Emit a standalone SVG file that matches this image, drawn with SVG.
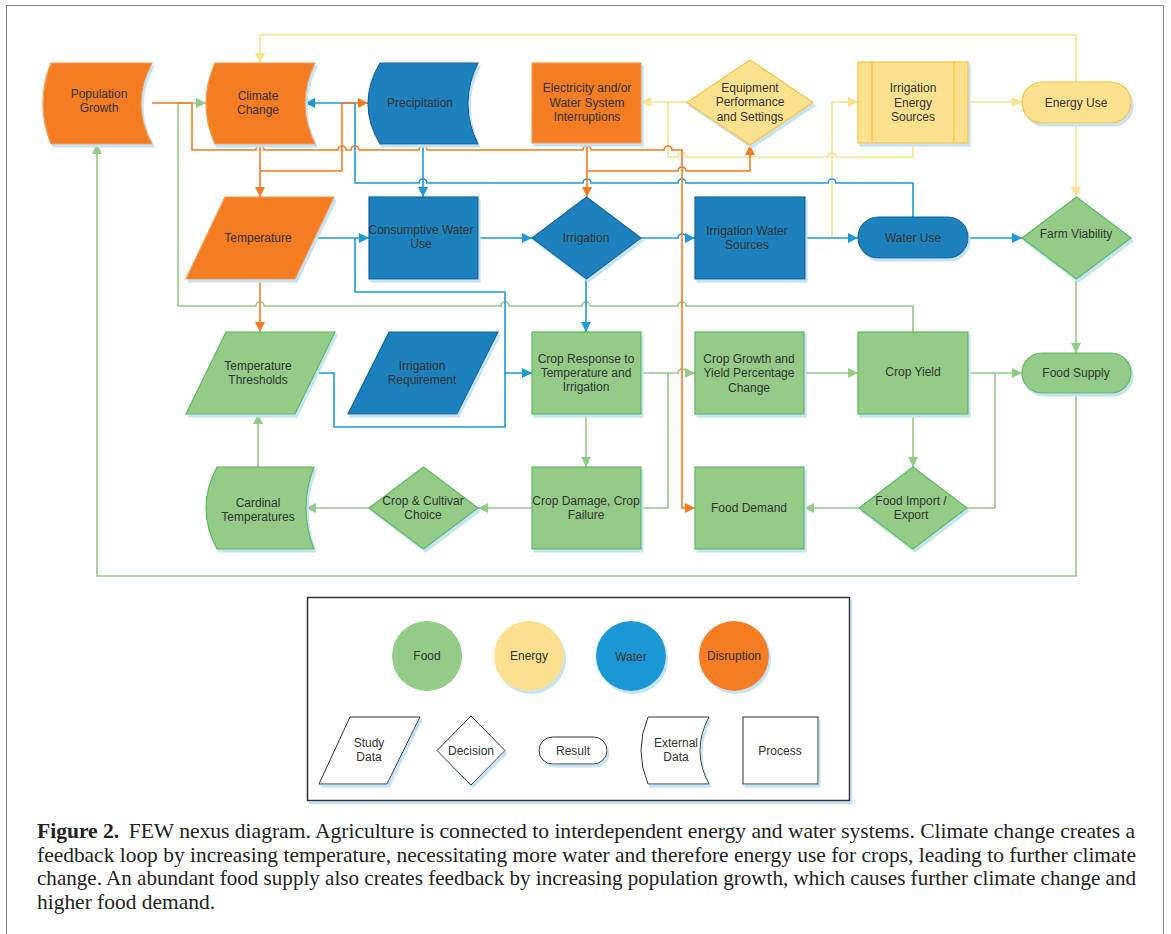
<svg xmlns="http://www.w3.org/2000/svg" width="1171" height="934" viewBox="0 0 1171 934">
<defs>
<filter id="sh" x="-10%" y="-10%" width="130%" height="130%"><feDropShadow dx="2" dy="3" stdDeviation="0" flood-color="#C3E4F6" flood-opacity="1"/></filter>
<marker id="aO" viewBox="0 0 10 10" refX="10" refY="5" markerWidth="10" markerHeight="10" markerUnits="userSpaceOnUse" orient="auto"><path d="M0,0L10,5L0,10z" fill="#F47B20"/></marker>
<marker id="aB" viewBox="0 0 10 10" refX="10" refY="5" markerWidth="10" markerHeight="10" markerUnits="userSpaceOnUse" orient="auto"><path d="M0,0L10,5L0,10z" fill="#1E98D8"/></marker>
<marker id="aG" viewBox="0 0 10 10" refX="10" refY="5" markerWidth="10" markerHeight="10" markerUnits="userSpaceOnUse" orient="auto"><path d="M0,0L10,5L0,10z" fill="#93CB87"/></marker>
<marker id="aY" viewBox="0 0 10 10" refX="10" refY="5" markerWidth="10" markerHeight="10" markerUnits="userSpaceOnUse" orient="auto"><path d="M0,0L10,5L0,10z" fill="#FCE08C"/></marker>
</defs>
<style>
text{font-family:"Liberation Sans",Arial,sans-serif;font-size:12px;fill:#333;text-anchor:middle}
.o{fill:#F47B20;stroke:#F59A4E;stroke-width:1.2;filter:url(#sh)}
.b{fill:#1A81BC;stroke:#15679B;stroke-width:1.2;filter:url(#sh)}
.g{fill:#93CB87;stroke:#5BB85D;stroke-width:1.2;filter:url(#sh)}
.y{fill:#FDE18F;stroke:#F6C23E;stroke-width:1.2;filter:url(#sh)}
.ln{fill:none;stroke:#F6C23E;stroke-width:1.2}
.lg{fill:#fff;stroke:#333;stroke-width:1;filter:url(#sh)}
#connectors path{fill:none;stroke-width:1.6}
.co{stroke:#F47B20;marker-end:url(#aO)}
.cb{stroke:#1E98D8;marker-end:url(#aB)}
.cg{stroke:#93CB87;marker-end:url(#aG)}
.cy{stroke:#FCE08C;marker-end:url(#aY)}
.nm{marker-end:none!important}
.cap{font-family:"Liberation Serif","Times New Roman",serif;font-size:21px;fill:#222;text-anchor:start}
</style>
<rect x="6.5" y="5.5" width="1157" height="940" fill="#fff" stroke="#8a8a8a" stroke-width="1"/>

<g id="connectors">
<path class="cg" d="M913,332 V306 H686 A4,4 0 0 0 678,306 H590 A4,4 0 0 0 582,306 H509 A4,4 0 0 0 501,306 H264 A4,4 0 0 0 256,306 H178 V103 H206"/>
<path class="cg" d="M1076,393 V576 H97 V144"/>
<path class="cg" d="M641,373 H678 A4,4 0 0 1 686,373 H695"/>
<path class="cg nm" d="M641,508 H668 V373"/>
<path class="cg" d="M586,414 V467"/>
<path class="cg" d="M532,508 H478"/>
<path class="cg" d="M369,508 H306"/>
<path class="cg" d="M258,467 V414"/>
<path class="cg" d="M804,373 H858"/>
<path class="cg" d="M968,373 H1022"/>
<path class="cg nm" d="M967,508 H995 V373"/>
<path class="cg" d="M913,414 V467"/>
<path class="cg" d="M859,508 H804"/>
<path class="cg" d="M1076,279 V353"/>

<path class="cy" d="M1076,82 V35 H260 V63"/>
<path class="cy nm" d="M913,143 V157 H836 A4,4 0 0 0 828,157 H686 A4,4 0 0 0 678,157 H668 V102"/>
<path class="cy" d="M687,102 H641"/>
<path class="cy" d="M832,238 V102 H858"/>
<path class="cy" d="M968,102 H1022"/>
<path class="cy" d="M1076,123 V197"/>

<path class="cb" d="M423,144 V197"/>
<path class="cb" d="M913,217 V183 H836 A4,4 0 0 0 828,183 H686 A4,4 0 0 0 678,183 H591 A4,4 0 0 0 583,183 H427 A4,4 0 0 0 419,183 H355 V103 H305"/>
<path class="cb" d="M314,238 H369"/>
<path class="cb" d="M355,238 V292 H505 V373 H532"/>
<path class="cb nm" d="M315,373 H334 V427 H505 V373"/>
<path class="cb" d="M478,238 H532"/>
<path class="cb" d="M641,238 H678 A4,4 0 0 1 686,238 H695"/>
<path class="cb" d="M586,279 V332"/>
<path class="cb" d="M805,238 H858"/>
<path class="cb" d="M968,238 H1022"/>

<path class="co" d="M152,103 H192 V150 H256 A4,4 0 0 1 264,150 H338 A4,4 0 0 1 346,150 H351 A4,4 0 0 1 359,150 H419 A4,4 0 0 1 427,150 H583 A4,4 0 0 1 591,150 H664 A4,4 0 0 1 672,150 H682 V508 H695"/>
<path class="co" d="M260,144 V197"/>
<path class="co" d="M260,171 H342 V103 H368"/>
<path class="co" d="M587,143 V197"/>
<path class="co" d="M587,171 H678 A4,4 0 0 1 686,171 H750 V145"/>
<path class="co" d="M260,279 V332"/>
</g>

<g id="population-growth"><path class="o" d="M51,63 H152 Q130,103.5 152,144 H51 Q35,103.5 51,63 Z"/><text x="99" y="98">Population</text><text x="99" y="112">Growth</text></g>
<g id="climate-change"><path class="o" d="M215,63 H315 Q295,103.5 315,144 H215 Q197,103.5 215,63 Z"/><text x="258" y="100">Climate</text><text x="258" y="114">Change</text></g>
<g id="precipitation"><path class="b" d="M380,63 H478 Q458,103.5 478,144 H380 Q356,103.5 380,63 Z"/><text x="420" y="107">Precipitation</text></g>
<g id="electricity"><rect class="o" x="532" y="63" width="109" height="80"/><text x="587" y="92">Electricity and/or</text><text x="587" y="107">Water System</text><text x="587" y="121">Interruptions</text></g>
<g id="equipment"><path class="y" d="M750,60 L813,102.5 L750,145 L687,102.5 Z"/><text x="750" y="92">Equipment</text><text x="750" y="106">Performance</text><text x="750" y="121">and Settings</text></g>
<g id="irrigation-energy-sources"><rect class="y" x="858" y="62" width="110" height="81"/><path class="ln" d="M872,62 V143 M954,62 V143"/><text x="913" y="92">Irrigation</text><text x="913" y="107">Energy</text><text x="913" y="121">Sources</text></g>
<g id="energy-use"><rect class="y" x="1022" y="82" width="109" height="41" rx="20.5"/><text x="1076" y="107">Energy Use</text></g>

<g id="temperature"><path class="o" d="M225,197 H334 L295,279 H186 Z"/><text x="258" y="242">Temperature</text></g>
<g id="consumptive-water-use"><rect class="b" x="369" y="197" width="109" height="82"/><text x="421" y="234">Consumptive Water</text><text x="421" y="248">Use</text></g>
<g id="irrigation"><path class="b" d="M586.5,197 L641,238 L586.5,279 L532,238 Z"/><text x="586" y="242">Irrigation</text></g>
<g id="irrigation-water-sources"><rect class="b" x="695" y="197" width="110" height="82"/><text x="747" y="235">Irrigation Water</text><text x="747" y="249">Sources</text></g>
<g id="water-use"><rect class="b" x="858" y="217" width="110" height="41" rx="20.5"/><text x="913" y="242">Water Use</text></g>
<g id="farm-viability"><path class="g" d="M1076.5,197 L1131,238 L1076.5,279 L1022,238 Z"/><text x="1076" y="238">Farm Viability</text></g>

<g id="temperature-thresholds"><path class="g" d="M226,332 H335 L295,414 H186 Z"/><text x="258" y="370">Temperature</text><text x="258" y="384">Thresholds</text></g>
<g id="irrigation-requirement"><path class="b" d="M389,332 H498 L457,414 H348 Z"/><text x="422" y="370">Irrigation</text><text x="422" y="384">Requirement</text></g>
<g id="crop-response"><rect class="g" x="532" y="332" width="109" height="82"/><text x="586" y="363">Crop Response to</text><text x="586" y="377">Temperature and</text><text x="586" y="391">Irrigation</text></g>
<g id="crop-growth"><rect class="g" x="695" y="332" width="109" height="82"/><text x="749" y="363">Crop Growth and</text><text x="749" y="377">Yield Percentage</text><text x="749" y="392">Change</text></g>
<g id="crop-yield"><rect class="g" x="858" y="332" width="110" height="82"/><text x="913" y="376">Crop Yield</text></g>
<g id="food-supply"><rect class="g" x="1022" y="353" width="109" height="40" rx="20"/><text x="1076" y="377">Food Supply</text></g>

<g id="cardinal-temperatures"><path class="g" d="M217,467 H314 Q298,508 314,549 H217 Q195,508 217,467 Z"/><text x="258" y="507">Cardinal</text><text x="258" y="521">Temperatures</text></g>
<g id="crop-cultivar-choice"><path class="g" d="M423.5,467 L478,508 L423.5,549 L369,508 Z"/><text x="423" y="505">Crop &amp; Cultivar</text><text x="423" y="519">Choice</text></g>
<g id="crop-damage"><rect class="g" x="532" y="467" width="109" height="82"/><text x="586" y="505">Crop Damage, Crop</text><text x="586" y="519">Failure</text></g>
<g id="food-demand"><rect class="g" x="695" y="467" width="109" height="82"/><text x="749" y="512">Food Demand</text></g>
<g id="food-import-export"><path class="g" d="M913,467 L967,508 L913,549 L859,508 Z"/><text x="911" y="505">Food Import /</text><text x="911" y="519">Export</text></g>

<g id="legend">
<rect x="307.5" y="597.5" width="542" height="203" fill="#fff" stroke="#333" stroke-width="1.5" filter="url(#sh)"/>
<circle cx="427" cy="656" r="35" fill="#93CB87"/><text x="427" y="660">Food</text>
<circle cx="529" cy="656" r="35" fill="#FDE08F" filter="url(#sh)"/><text x="529" y="660">Energy</text>
<circle cx="631" cy="656" r="35" fill="#1A97D6" filter="url(#sh)"/><text x="631" y="661">Water</text>
<circle cx="734" cy="656" r="35" fill="#F47B20" filter="url(#sh)"/><text x="734" y="660">Disruption</text>
<path class="lg" d="M350,717 H420 L387,784 H319 Z"/><text x="369" y="747">Study</text><text x="369" y="761">Data</text>
<path class="lg" d="M471,716 L505,750.5 L471,785 L437,750.5 Z"/><text x="471" y="755">Decision</text>
<rect class="lg" x="539" y="737" width="68" height="27" rx="13.5"/><text x="573" y="755">Result</text>
<path class="lg" d="M648,717 H709 Q691,750.5 709,784 H648 Q634,750.5 648,717 Z"/><text x="676" y="747">External</text><text x="676" y="761">Data</text>
<rect class="lg" x="743" y="717" width="75" height="67"/><text x="780" y="755">Process</text>
</g>

<g id="caption">
<text class="cap" x="37" y="838" textLength="1098" lengthAdjust="spacingAndGlyphs"><tspan font-weight="bold">Figure 2.</tspan><tspan dx="4"> FEW nexus diagram. Agriculture is connected to interdependent energy and water systems. Climate change creates a</tspan></text>
<text class="cap" x="37" y="862" textLength="1099" lengthAdjust="spacingAndGlyphs">feedback loop by increasing temperature, necessitating more water and therefore energy use for crops, leading to further climate</text>
<text class="cap" x="37" y="885" textLength="1099" lengthAdjust="spacingAndGlyphs">change. An abundant food supply also creates feedback by increasing population growth, which causes further climate change and</text>
<text class="cap" x="37" y="909" textLength="178" lengthAdjust="spacingAndGlyphs">higher food demand.</text>
</g>
</svg>
